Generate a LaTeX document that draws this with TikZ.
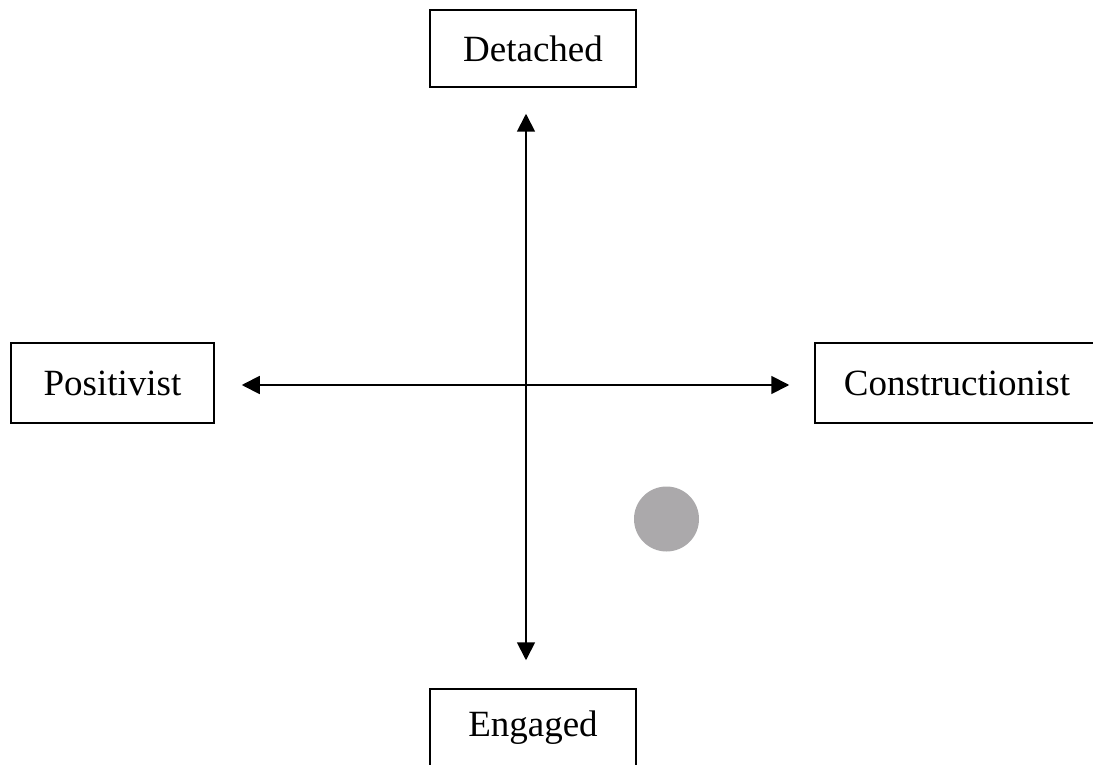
\documentclass[tikz,border=0pt]{standalone}
\usepackage{fontspec}
\setmainfont{Liberation Serif}
\usetikzlibrary{arrows.meta}
\definecolor{dotgray}{HTML}{ABA9AB}
\tikzset{
  labelbox/.style={draw=black, line width=1.5pt, font=\fontsize{37}{44}\selectfont, inner sep=0pt},
  axis/.style={line width=1.8pt, {Triangle[length=18pt,width=18pt]}-{Triangle[length=18pt,width=18pt]}},
}
\begin{document}
\begin{tikzpicture}[x=1pt,y=-1pt]
\useasboundingbox (0,0) rectangle (1093,765);
\node[labelbox, minimum width=206pt, minimum height=77pt] (det) at (533,48.5) {Detached};
\node[labelbox, minimum width=206pt, minimum height=77pt] (eng) at (533,727.5) {Engaged};
\node[labelbox, minimum width=203pt, minimum height=80pt] (pos) at (112.5,383) {Positivist};
\node[labelbox, minimum width=284pt, minimum height=80pt] (con) at (957,383) {Constructionist};
\coordinate (c) at (526,385);
\node[circle, fill=dotgray, inner sep=0pt, minimum size=65pt] (dot) at (666.5,519) {};
\draw[axis, shorten <=26pt, shorten >=28pt] (det.south -| c) -- (eng.north -| c);
\draw[axis, shorten <=27pt, shorten >=25pt] (pos.east |- c) -- (con.west |- c);
\end{tikzpicture}
\end{document}
